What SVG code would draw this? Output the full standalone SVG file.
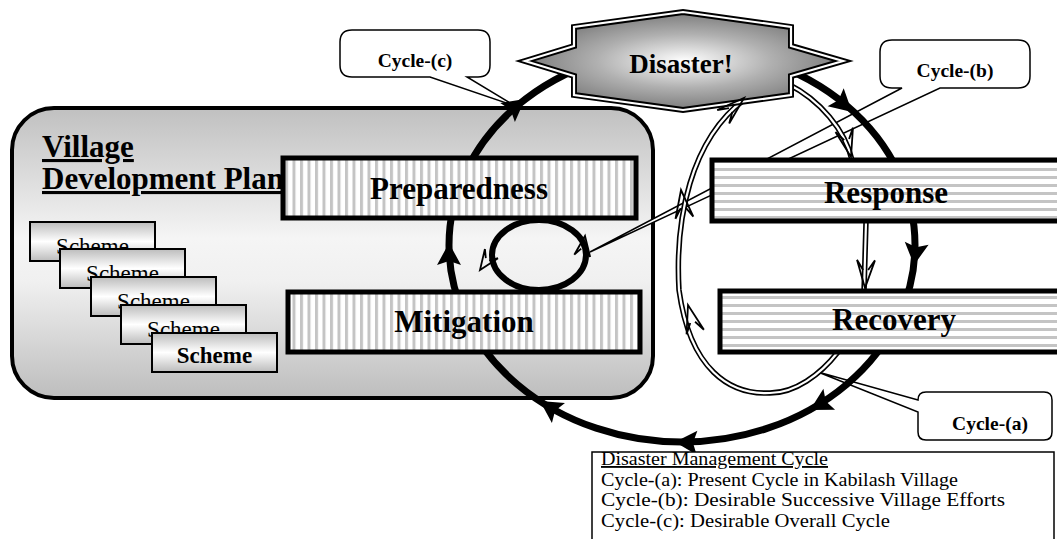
<svg xmlns="http://www.w3.org/2000/svg" xmlns:xlink="http://www.w3.org/1999/xlink" width="1057" height="539" viewBox="0 0 1057 539">
<defs>
<linearGradient id="gVillage" x1="0" y1="0" x2="0" y2="1">
<stop offset="0" stop-color="#c0c0c0"/><stop offset="0.45" stop-color="#f5f5f5"/><stop offset="0.6" stop-color="#f0f0f0"/><stop offset="1" stop-color="#bdbdbd"/>
</linearGradient>
<linearGradient id="gScheme" x1="0" y1="0" x2="0" y2="1">
<stop offset="0" stop-color="#bcbcbc"/><stop offset="0.5" stop-color="#ffffff"/><stop offset="1" stop-color="#bcbcbc"/>
</linearGradient>
<radialGradient id="gStar" cx="0.5" cy="0.5" r="0.55">
<stop offset="0" stop-color="#ffffff"/><stop offset="0.5" stop-color="#b0b0b0"/><stop offset="1" stop-color="#707070"/>
</radialGradient>
<pattern id="vstripe" width="7.5" height="10" patternUnits="userSpaceOnUse">
<rect width="7.5" height="10" fill="#ffffff"/><rect width="3" height="10" fill="#c4c4c4"/>
</pattern>
<pattern id="hstripe" width="10" height="8" patternUnits="userSpaceOnUse">
<rect width="10" height="8" fill="#ffffff"/><rect width="10" height="3" fill="#c4c4c4"/>
</pattern>
<path id="ah" d="M0,0 L-22,-12 L-18,0 L-22,12 Z" fill="#000"/>
<path id="ah2" d="M-28,-9 L0,0 L-28,9 M-28,-9 L-18,-2.5 M-28,9 L-18,2.5" fill="none" stroke="#000" stroke-width="1.8" stroke-linejoin="miter"/>
<path id="ah3" d="M-20,-8 L0,0 L-20,8 M-20,-8 L-13,-2 M-20,8 L-13,2" fill="none" stroke="#000" stroke-width="1.8"/>
</defs>
<style>
.box{stroke:#000;stroke-width:5}
.lbl{font-family:"Liberation Serif",serif;font-weight:bold;font-size:31px;text-anchor:middle;fill:#000}
.sch{fill:url(#gScheme);stroke:#000;stroke-width:2}
.scht{font-family:"Liberation Serif",serif;font-size:23px;text-anchor:middle;fill:#000}
.call{fill:#fff;stroke:#000;stroke-width:1.5}
.callt{font-family:"Liberation Serif",serif;font-weight:bold;font-size:19.5px;text-anchor:middle;fill:#000}
.leg{font-family:"Liberation Serif",serif;font-size:18.5px;fill:#000}
</style>

<g id="village">
<rect x="12" y="108" width="641" height="290" rx="42" ry="42" fill="url(#gVillage)" stroke="#000" stroke-width="4"/>
<text x="42" y="157" font-family="Liberation Serif, serif" font-weight="bold" font-size="31" text-decoration="underline">Village</text>
<text x="42" y="189" font-family="Liberation Serif, serif" font-weight="bold" font-size="31" text-decoration="underline">Development Plan</text>
</g>

<g id="schemes">
<rect class="sch" x="30" y="222" width="125" height="39"/><text class="scht" x="92.5" y="254">Scheme</text>
<rect class="sch" x="60" y="249" width="125" height="39"/><text class="scht" x="122.5" y="281">Scheme</text>
<rect class="sch" x="91" y="277" width="125" height="39"/><text class="scht" x="153.5" y="309">Scheme</text>
<rect class="sch" x="121" y="305" width="125" height="39"/><text class="scht" x="183.5" y="337">Scheme</text>
<rect class="sch" x="152" y="333" width="125" height="39"/><text class="scht" x="214.5" y="363" font-weight="bold" font-size="21">Scheme</text>
</g>

<g id="callout-b">
<path class="call" d="M892,40 H1018 Q1030,40 1030,52 V76 Q1030,88 1018,88 H940 L590,252 L902,88 H892 Q880,88 880,76 V52 Q880,40 892,40 Z"/>
<text class="callt" x="955" y="77">Cycle-(b)</text>
</g>
<g id="callout-c">
<path class="call" d="M352,30 H478 Q490,30 490,42 V65 Q490,77 478,77 H467 L515,106 L430,77 H352 Q340,77 340,65 V42 Q340,30 352,30 Z"/>
<text class="callt" x="415" y="67">Cycle-(c)</text>
</g>
<g id="callout-a">
<path class="call" d="M926,392 H1044 Q1052,392 1052,400 V432 Q1052,440 1044,440 H926 Q918,440 918,432 V412 L818,372 L918,400 Q918,392 926,392 Z"/>
<text class="callt" x="990" y="430">Cycle-(a)</text>
</g>

<g id="connectors">
<ellipse cx="682" cy="245" rx="233" ry="197" fill="none" stroke="#000" stroke-width="7"/>
<path d="M788,84 C820,100 845,130 852,160 L866,222 L864,292 L838,352 C820,375 795,393 770,393 C730,395 690,370 679,290 C675,220 690,140 745,99" fill="none" stroke="#000" stroke-width="5.5"/>
<path d="M788,84 C820,100 845,130 852,160 L866,222 L864,292 L838,352 C820,375 795,393 770,393 C730,395 690,370 679,290 C675,220 690,140 745,99" fill="none" stroke="#fff" stroke-width="2.2"/>
<ellipse cx="539" cy="255" rx="47" ry="35" fill="none" stroke="#000" stroke-width="6"/>
</g>

<g id="preparedness">
<rect class="box" x="283" y="158" width="353" height="60" fill="url(#vstripe)"/>
<text class="lbl" x="459" y="199">Preparedness</text>
</g>
<g id="mitigation">
<rect class="box" x="288" y="292" width="352" height="60" fill="url(#vstripe)"/>
<text class="lbl" x="464" y="332">Mitigation</text>
</g>
<g id="response">
<rect class="box" x="712" y="160" width="360" height="61" fill="url(#hstripe)"/>
<text class="lbl" x="886" y="203">Response</text>
</g>
<g id="recovery">
<rect class="box" x="720" y="291" width="360" height="61" fill="url(#hstripe)"/>
<text class="lbl" x="894" y="330">Recovery</text>
</g>

<g id="disaster">
<polygon points="525,61 574,46 574,27 683,12 791,27 791,46 843,61 791,76 791,95 683,110 574,95 574,76" fill="url(#gStar)" stroke="#000" stroke-width="6" stroke-linejoin="miter"/>
<polygon points="525,61 574,46 574,27 683,12 791,27 791,46 843,61 791,76 791,95 683,110 574,95 574,76" fill="none" stroke="#fff" stroke-width="2.2"/>
<text x="681" y="73" font-family="Liberation Serif, serif" font-weight="bold" font-size="27" text-anchor="middle">Disaster!</text>
</g>

<g id="arrowheads">
<use xlink:href="#ah" transform="translate(525,99) rotate(-37.6)"/>
<use xlink:href="#ah" transform="translate(852,112) rotate(42)"/>
<use xlink:href="#ah" transform="translate(914,265) rotate(97)"/>
<use xlink:href="#ah" transform="translate(810,410) rotate(151)"/>
<use xlink:href="#ah" transform="translate(675,442) rotate(182)"/>
<use xlink:href="#ah" transform="translate(540,401) rotate(-147)"/>
<use xlink:href="#ah" transform="translate(449,243) rotate(-90)"/>
<use xlink:href="#ah2" transform="translate(744,98) rotate(-42)"/>
<use xlink:href="#ah2" transform="translate(851,157) rotate(76)"/>
<use xlink:href="#ah2" transform="translate(865,288) rotate(92)"/>
<use xlink:href="#ah2" transform="translate(688,305) rotate(-105)"/>
<use xlink:href="#ah2" transform="translate(681,190) rotate(-97)"/>
<use xlink:href="#ah3" transform="translate(480,270) rotate(125)"/>
<use xlink:href="#ah3" transform="translate(585,236) rotate(-82)"/>
</g>

<g id="legend">
<rect x="592" y="452" width="462" height="100" fill="#fff" stroke="#000" stroke-width="1.5"/>
<text class="leg" x="601" y="465" text-decoration="underline" textLength="227" lengthAdjust="spacingAndGlyphs">Disaster Management Cycle</text>
<text class="leg" x="601" y="485.5" textLength="357" lengthAdjust="spacingAndGlyphs">Cycle-(a): Present Cycle in Kabilash Village</text>
<text class="leg" x="601" y="506" textLength="404" lengthAdjust="spacingAndGlyphs">Cycle-(b): Desirable Successive Village Efforts</text>
<text class="leg" x="601" y="526.5" textLength="289" lengthAdjust="spacingAndGlyphs">Cycle-(c): Desirable Overall Cycle</text>
</g>
</svg>
